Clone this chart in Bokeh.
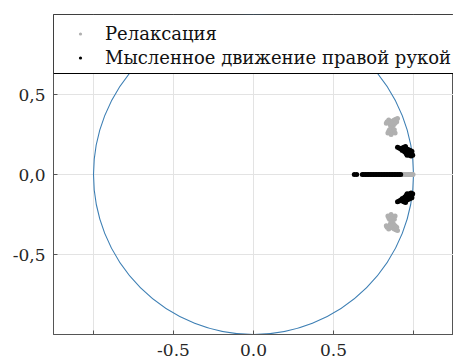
from bokeh.plotting import figure
from bokeh.models import Legend, LegendItem, FixedTicker, Range1d, BoxAnnotation
from bokeh.embed import file_html
from bokeh.resources import INLINE

# Релаксация (gray) poles
relax_x = [0.835, 0.845, 0.850, 0.860, 0.870, 0.880, 0.890, 0.900, 0.855, 0.865, 0.875, 0.885,
           0.860, 0.870, 0.880, 0.850, 0.845, 0.840, 0.855, 0.875, 0.885, 0.830, 0.895, 0.865, 0.860,
           0.835, 0.845, 0.850, 0.860, 0.870, 0.880, 0.890, 0.900, 0.855, 0.865, 0.875, 0.885,
           0.860, 0.870, 0.880, 0.850, 0.845, 0.840, 0.855, 0.875, 0.885, 0.830, 0.895, 0.865, 0.860,
           0.930, 0.940, 0.950, 0.960, 0.970, 0.980, 0.990, 0.997]
relax_y = [0.330, 0.340, 0.325, 0.330, 0.335, 0.340, 0.345, 0.350, 0.310, 0.305, 0.310, 0.320,
           0.290, 0.285, 0.280, 0.280, 0.270, 0.260, 0.265, 0.265, 0.260, 0.320, 0.330, 0.320, 0.250,
           -0.330, -0.340, -0.325, -0.330, -0.335, -0.340, -0.345, -0.350, -0.310, -0.305, -0.310, -0.320,
           -0.290, -0.285, -0.280, -0.280, -0.270, -0.260, -0.265, -0.265, -0.260, -0.320, -0.330, -0.320, -0.250,
           0.0, 0.0, 0.0, 0.0, 0.0, 0.0, 0.0, 0.0]

# Мысленное движение правой рукой (black) poles
motor_x = [0.900, 0.910, 0.920, 0.930, 0.940, 0.950, 0.960, 0.970, 0.980, 0.990, 0.995, 0.930,
           0.945, 0.955, 0.965, 0.975, 0.985, 0.940, 0.950, 0.960, 0.970, 0.980, 0.990, 0.960, 0.950,
           0.900, 0.910, 0.920, 0.930, 0.940, 0.950, 0.960, 0.970, 0.980, 0.990, 0.995, 0.930,
           0.945, 0.955, 0.965, 0.975, 0.985, 0.940, 0.950, 0.960, 0.970, 0.980, 0.990, 0.960, 0.950,
           0.630, 0.645, 0.680, 0.690, 0.700, 0.710, 0.720, 0.730, 0.740, 0.750, 0.760, 0.770, 0.780,
           0.790, 0.800, 0.810, 0.820, 0.830, 0.840, 0.850, 0.860, 0.870, 0.880, 0.890, 0.900, 0.910, 0.920]
motor_y = [0.170, 0.165, 0.160, 0.165, 0.155, 0.150, 0.145, 0.140, 0.135, 0.130, 0.120, 0.150,
           0.140, 0.130, 0.125, 0.120, 0.115, 0.170, 0.165, 0.160, 0.155, 0.150, 0.145, 0.120, 0.175,
           -0.170, -0.165, -0.160, -0.165, -0.155, -0.150, -0.145, -0.140, -0.135, -0.130, -0.120, -0.150,
           -0.140, -0.130, -0.125, -0.120, -0.115, -0.170, -0.165, -0.160, -0.155, -0.150, -0.145, -0.120, -0.175,
           0.0, 0.0, 0.0, 0.0, 0.0, 0.0, 0.0, 0.0, 0.0, 0.0, 0.0, 0.0, 0.0,
           0.0, 0.0, 0.0, 0.0, 0.0, 0.0, 0.0, 0.0, 0.0, 0.0, 0.0, 0.0, 0.0, 0.0]

x_ticks = [-1.0, -0.5, 0.0, 0.5, 1.0]
x_labels = {-1.0: "", -0.5: "-0.5", 0.0: "0.0", 0.5: "0.5", 1.0: ""}
y_ticks = [-0.5, 0.0, 0.5]
y_labels = {-0.5: "-0,5", 0.0: "0,0", 0.5: "0,5"}

FONT = "DejaVu Serif"

p = figure(width=453, height=360, output_backend="svg", toolbar_location=None,
           x_range=Range1d(-1.25, 1.25), y_range=Range1d(-1.0, 1.0),
           min_border_left=53, min_border_right=0, min_border_top=14, min_border_bottom=26)

p.outline_line_color = "#555555"
p.background_fill_color = "white"
p.border_fill_color = "white"

for ax in (p.xaxis, p.yaxis):
    ax.axis_line_color = "#555555"
    ax.major_tick_line_color = "#555555"
    ax.major_tick_in = 4
    ax.major_tick_out = 0
    ax.minor_tick_line_color = None
    ax.major_label_text_font = FONT
    ax.major_label_text_font_size = "17px"
    ax.major_label_text_color = "#262626"

p.xaxis.ticker = FixedTicker(ticks=x_ticks)
p.xaxis.major_label_overrides = x_labels
p.xaxis.major_label_standoff = 9
p.yaxis.ticker = FixedTicker(ticks=y_ticks)
p.yaxis.major_label_overrides = y_labels
p.yaxis.major_label_standoff = 8

p.xgrid.ticker = FixedTicker(ticks=x_ticks)
p.ygrid.ticker = FixedTicker(ticks=y_ticks)
p.xgrid.grid_line_color = "#e3e3e3"
p.ygrid.grid_line_color = "#e3e3e3"

p.ellipse(x=0, y=0, width=2, height=2, fill_color=None, line_color="#3d7fb4", line_width=1.1)

r_relax = p.scatter(relax_x, relax_y, size=5, marker="circle", fill_color="#b0b0b0",
                    line_color=None)
r_motor = p.scatter(motor_x, motor_y, size=5, marker="circle", fill_color="black",
                    line_color=None)

# legend frame (white box with black border spanning the top of the plot)
box = BoxAnnotation(left=-1.25, right=1.25, top=1.0, bottom=0.63125,
                    fill_color="white", fill_alpha=1.0, line_color="black", line_width=1,
                    line_alpha=1.0)
p.add_layout(box)

legend = Legend(items=[LegendItem(label="Релаксация", renderers=[r_relax]),
                       LegendItem(label="Мысленное движение правой рукой", renderers=[r_motor])],
                location=(23, 265), margin=0, padding=0, spacing=1,
                glyph_width=8, glyph_height=23, label_height=23, label_standoff=21,
                label_text_font=FONT, label_text_font_size="18px",
                label_text_color="#111111",
                border_line_color=None, background_fill_alpha=0.0)
p.add_layout(legend, "center")

open("out.html", "w").write(file_html(p, INLINE))
